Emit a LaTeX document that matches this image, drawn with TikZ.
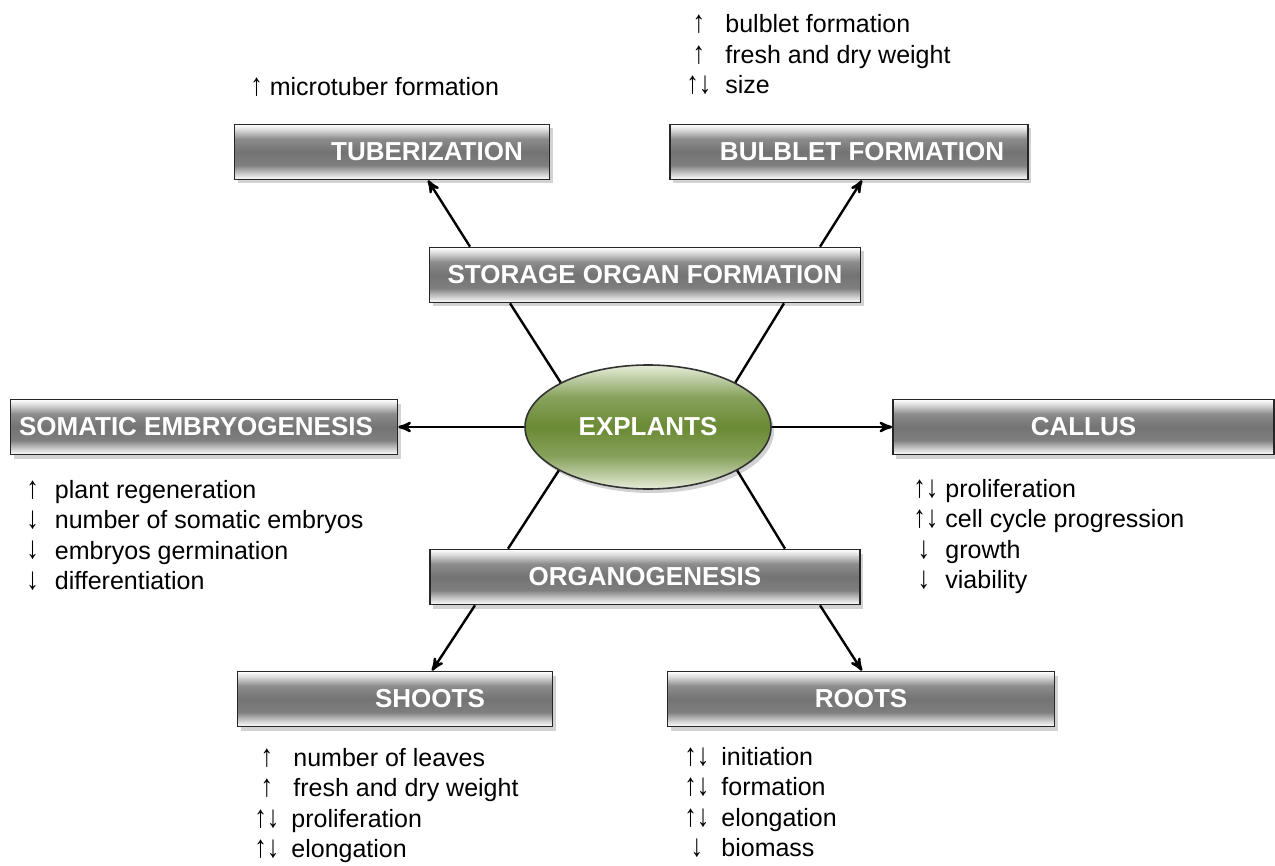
\documentclass[tikz,border=0pt]{standalone}
\usepackage{fontspec}
\setmainfont{Liberation Sans}
\usepackage{tikz}
\usetikzlibrary{arrows,shapes.geometric,shadows,calc}

\definecolor{explgreen}{HTML}{6A8A34}
\definecolor{explpale}{HTML}{E6EDD9}
\pgfdeclareverticalshading{greybar}{100bp}{color(0bp)=(white); color(25bp)=(white);
  color(29bp)=(gray!30); color(38bp)=(black!50); color(50bp)=(black!55); color(62bp)=(black!45);
  color(70bp)=(gray!30); color(75bp)=(white); color(100bp)=(white)}
\pgfdeclareverticalshading{greenball}{100bp}{color(0bp)=(explpale); color(25bp)=(explpale);
  color(38bp)=(explgreen!80!white); color(50bp)=(explgreen); color(62bp)=(explgreen!80!white);
  color(75bp)=(explpale); color(100bp)=(explpale)}
\newcommand{\updn}[1]{\scalebox{1}[1.25]{#1}}

\begin{document}
\begin{tikzpicture}[x=0.5pt,y=-0.5pt,>=stealth',
        bar/.style={draw=black!85,line width=0.8pt,shading=greybar,
          minimum height=27.5pt,inner sep=0pt,text=white,
          font=\fontsize{13}{15}\selectfont\bfseries,
          drop shadow={shadow xshift=1.5pt,shadow yshift=-2pt,fill=black!35}},
        link/.style={line width=1.2pt},
        notes/.style={anchor=base west,inner sep=0pt,
          font=\fontsize{12.5}{15.25}\selectfont}]

        \useasboundingbox (0,0) rectangle (1275,866);

        \node[bar,minimum width=157.5pt] (tub) at (392,152) {\hspace*{35pt}TUBERIZATION};
        \node[bar,minimum width=179pt] (bulb) at (849,152) {\hspace*{13pt}BULBLET FORMATION};
        \node[bar,minimum width=215.5pt] (sof) at (645,275) {STORAGE ORGAN FORMATION};
        \node[ellipse,draw=black!80,line width=0.8pt,shading=greenball,
              minimum width=123pt,minimum height=62pt,text=white,
              font=\fontsize{13}{15}\selectfont\bfseries,
              drop shadow={shadow xshift=1.5pt,shadow yshift=-2pt,fill=black!35}]
              (expl) at (648,427) {EXPLANTS};
        \node[bar,minimum width=193.5pt] (seg) at (204,427) {SOMATIC EMBRYOGENESIS\hspace*{8pt}};
        \node[bar,minimum width=190.5pt] (cal) at (1083.5,427) {CALLUS};
        \node[bar,minimum width=215pt] (org) at (645,577) {ORGANOGENESIS};
        \node[bar,minimum width=157.5pt] (sht) at (395,699) {\hspace*{35pt}SHOOTS};
        \node[bar,minimum width=193.5pt] (rts) at (861,699) {ROOTS};

        \draw[link,->] ($(sof.north)+(-175,0)$) -- ($(tub.south)+(36,0)$);
        \draw[link,->] ($(sof.north)+(175,0)$) -- ($(bulb.south)+(13,0)$);
        \draw[link] ($(sof.south)+(-135,0)$) -- (expl.153);
        \draw[link] ($(sof.south)+(139,0)$) -- (expl.27);
        \draw[link,->] (expl.west) -- (seg.east);
        \draw[link,->] (expl.east) -- (cal.west);
        \draw[link] (expl.206) -- ($(org.north)+(-137,0)$);
        \draw[link] (expl.334) -- ($(org.north)+(140,0)$);
        \draw[link,->] ($(org.south)+(-170,0)$) -- ($(sht.north)+(37,0)$);
        \draw[link,->] ($(org.south)+(175,0)$) -- ($(rts.north)+(1,0)$);

        % effects listed next to each response
        \node[notes] (tubn) at (250,96) {\updn{↑} microtuber formation};
        \node[notes] (bulbn) at (686,33) {\begin{tabular}[t]{@{}c@{\hspace{7pt}}l@{}}
            \updn{↑} & bulblet formation\\ \updn{↑} & fresh and dry weight\\ \updn{↑↓} & size\end{tabular}};
        \node[notes] (segn) at (26,498) {\begin{tabular}[t]{@{}l@{\hspace{8pt}}l@{}}
            \updn{↑} & plant regeneration\\ \updn{↓} & number of somatic embryos\\
            \updn{↓} & embryos germination\\ \updn{↓} & differentiation\end{tabular}};
        \node[notes] (caln) at (913,497) {\begin{tabular}[t]{@{}l@{\hspace{3.5pt}}l@{}}
            \updn{↑↓} & proliferation\\ \updn{↑↓} & cell cycle progression\\
            \,\updn{↓} & growth\\ \,\updn{↓} & viability\end{tabular}};
        \node[notes] (shtn) at (254,766) {\begin{tabular}[t]{@{}c@{\hspace{6pt}}l@{}}
            \updn{↑} & \hspace*{1pt}number of leaves\\ \updn{↑} & \hspace*{1pt}fresh and dry weight\\
            \updn{↑↓} & proliferation\\ \updn{↑↓} & elongation\end{tabular}};
        \node[notes] (rtsn) at (684,765) {\begin{tabular}[t]{@{}c@{\hspace{6pt}}l@{}}
            \updn{↑↓} & initiation\\ \updn{↑↓} & formation\\
            \updn{↑↓} & elongation\\ \updn{↓} & biomass\end{tabular}};
\end{tikzpicture}
\end{document}
